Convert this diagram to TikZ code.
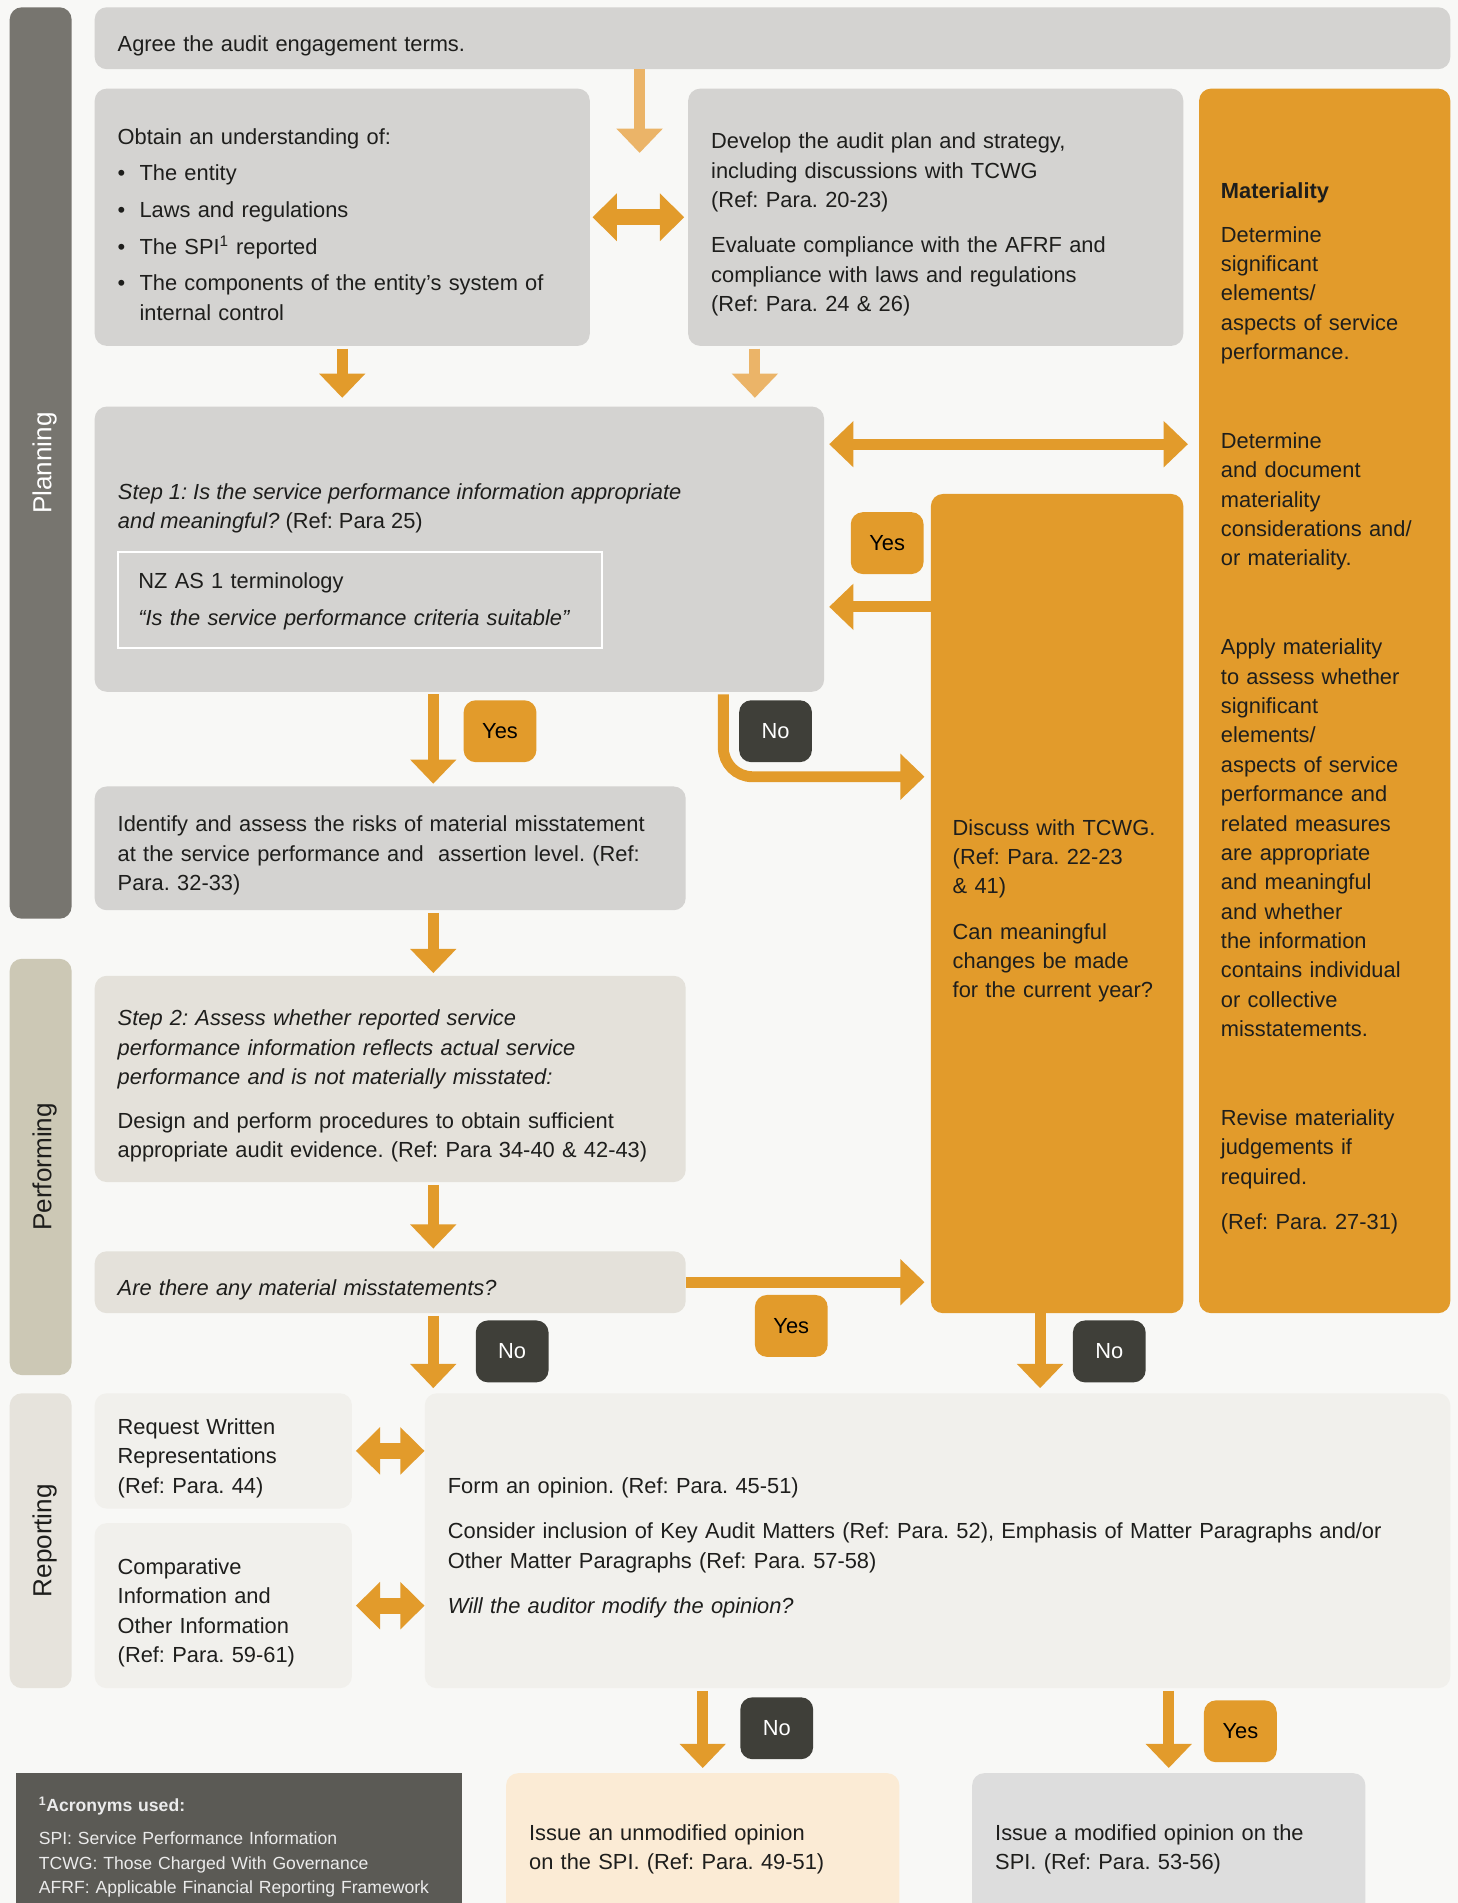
\documentclass[tikz,border=0pt]{standalone}
\usepackage{fontspec}
\setmainfont{Liberation Sans}
\usetikzlibrary{arrows.meta}
\definecolor{pagebg}{HTML}{F8F8F6}
\definecolor{boxgray}{HTML}{D4D3D1}
\definecolor{boxbeige}{HTML}{E4E1DA}
\definecolor{boxlight}{HTML}{F1F0EC}
\definecolor{amber}{HTML}{E29B2B}
\definecolor{amberlight}{HTML}{EBB468}
\definecolor{planbar}{HTML}{77756F}
\definecolor{perfbar}{HTML}{CCC8B5}
\definecolor{repbar}{HTML}{E6E3DC}
\definecolor{darklabel}{HTML}{3F3F39}
\definecolor{notebox}{HTML}{5B5A55}
\definecolor{peach}{HTML}{FBEBD5}
\definecolor{modgray}{HTML}{DDDDDD}
\definecolor{ink}{HTML}{1E1E1C}
\frenchspacing
\newcommand{\bodyfont}{\fontsize{18}{24.2}\selectfont}
\newcommand{\bul}{\makebox[18pt][l]{\textbullet}}

\tikzset{
  box/.style={fill=boxgray, rounded corners=10pt, inner xsep=19pt, inner ysep=0pt,
    align=left, text=ink, font=\bodyfont, text height=25pt},
  txt/.style={inner sep=0pt, align=left, text=ink, font=\bodyfont},
  phase/.style={rounded corners=10pt, inner sep=0pt, rotate=90, minimum height=51pt,
    text height=22pt, font=\fontsize{21.5}{24}\selectfont},
  yestag/.style={fill=amber, text=black, rounded corners=10pt, minimum width=60pt,
    minimum height=51pt, inner sep=0pt, font=\bodyfont},
  notag/.style={yestag, fill=darklabel, text=white},
  flow/.style={draw=amber, line width=9pt, -{Triangle[length=20pt,width=37pt]}},
  flowlight/.style={flow, draw=amberlight},
  twoway/.style={draw=amber, line width=13pt,
    {Triangle[length=20pt,width=38pt]}-{Triangle[length=20pt,width=38pt]}},
}

\begin{document}
\begin{tikzpicture}[x=1pt, y=-1pt]
\fill[pagebg] (0,0) rectangle (1201,1568);
\useasboundingbox (0,0) rectangle (1201,1568);

% phases
\node[phase, fill=planbar, text=white, minimum width=751pt] (plan) at (33.5,381.5) {Planning};
\node[phase, fill=perfbar, text=ink, minimum width=343pt] (perf) at (33.5,961.5) {Performing};
\node[phase, fill=repbar, text=ink, minimum width=243pt] (rep) at (33.5,1269.5) {Reporting};

% planning
\node[box, minimum width=1117pt, minimum height=51pt, text width=1079pt] (agree) at (636.5,31.5)
  {Agree the audit engagement terms.};
\node[box, minimum width=408pt, minimum height=212pt, text width=370pt] (obtain) at (282,179)
  {Obtain an understanding of:\\[6pt]
   \bul The entity\\[6pt]
   \bul Laws and regulations\\[6pt]
   \bul The SPI\textsuperscript{1} reported\\[6pt]
   \bul The components of the entity’s system of\\
   \hspace*{18pt}internal control};
\node[box, minimum width=408pt, minimum height=212pt, text width=370pt] (develop) at (771,179)
  {Develop the audit plan and strategy,\\
   including discussions with TCWG\\
   (Ref: Para. 20-23)\\[13pt]
   Evaluate compliance with the AFRF and\\
   compliance with laws and regulations\\
   (Ref: Para. 24 \& 26)};
\node[box, fill=amber, inner xsep=18pt, minimum width=207pt, minimum height=1009pt, text width=171pt] (mat) at (1091.5,577.5)
  {\textbf{Materiality}\\[12pt]
   Determine\\ significant\\ elements/\\ aspects of service\\ performance.\\[49pt]
   Determine\\ and document\\ materiality\\ considerations and/\\ or materiality.\\[49pt]
   Apply materiality\\ to assess whether\\ significant\\ elements/\\ aspects of service\\
   performance and\\ related measures\\ are appropriate\\ and meaningful\\ and whether\\
   the information\\ contains individual\\ or collective\\ misstatements.\\[49pt]
   Revise materiality\\ judgements if\\ required.\\[13pt]
   (Ref: Para. 27-31)};

\node[box, minimum width=601pt, minimum height=235pt] (step1) at (378.5,452.5) {};
\node[txt, anchor=west] (step1q) at (97,419)
  {\textit{Step 1: Is the service performance information appropriate}\\
   \textit{and meaningful?} (Ref: Para 25)};
\node[box, draw=white, line width=1.5pt, sharp corners, inner xsep=17pt, minimum width=399pt,
  minimum height=79pt, text width=365pt, text height=15pt] (nzas) at (296.5,494.5)
  {NZ AS 1 terminology\\[7pt]
   \textit{“Is the service performance criteria suitable”}};

\node[box, fill=amber, inner xsep=18pt, minimum width=208pt, minimum height=675pt, text width=172pt] (tcwg) at (871,744.5)
  {Discuss with TCWG.\\ (Ref: Para. 22-23\\ \& 41)\\[13pt]
   Can meaningful\\ changes be made\\ for the current year?};

\node[box, minimum width=487pt, minimum height=102pt, text width=449pt] (identify) at (321.5,699)
  {Identify and assess the risks of material misstatement\\
   at the service performance and~ assertion level. (Ref:\\
   Para. 32-33)};

% performing
\node[box, fill=boxbeige, minimum width=487pt, minimum height=170pt, text width=449pt] (step2) at (321.5,889)
  {\textit{Step 2: Assess whether reported service}\\
   \textit{performance information reflects actual service}\\
   \textit{performance and is not materially misstated:}\\[12pt]
   Design and perform procedures to obtain sufficient\\
   appropriate audit evidence. (Ref: Para 34-40 \& 42-43)};
\node[box, fill=boxbeige, minimum width=487pt, minimum height=51pt, text width=449pt] (are) at (321.5,1056.5)
  {\textit{Are there any material misstatements?}};

% reporting
\node[box, fill=boxlight, minimum width=212pt, minimum height=95pt, text width=174pt] (request) at (184,1195.5)
  {Request Written\\ Representations\\ (Ref: Para. 44)};
\node[box, fill=boxlight, minimum width=212pt, minimum height=136pt, text width=174pt] (compar) at (184,1323)
  {Comparative\\ Information and\\ Other Information\\ (Ref: Para. 59-61)};
\node[box, fill=boxlight, minimum width=845pt, minimum height=243pt, text width=807pt] (form) at (772.5,1269.5)
  {Form an opinion. (Ref: Para. 45-51)\\[13pt]
   Consider inclusion of Key Audit Matters (Ref: Para. 52), Emphasis of Matter Paragraphs and/or\\
   Other Matter Paragraphs (Ref: Para. 57-58)\\[13pt]
   \textit{Will the auditor modify the opinion?}};

% bottom row
\node[box, fill=notebox, sharp corners, text=white!92!black, minimum width=368pt, minimum height=119pt,
  text width=330pt, font=\fontsize{14.5}{20}\selectfont, text height=15pt] (acro) at (197,1520.5)
  {\textbf{\textsuperscript{1}Acronyms used:}\\[7pt]
   SPI: Service Performance Information\\
   TCWG: Those Charged With Governance\\
   AFRF: Applicable Financial Reporting Framework};
\node[box, fill=peach, minimum width=324pt, minimum height=120pt, text width=286pt, text height=19pt] (unmod) at (579,1521)
  {Issue an unmodified opinion\\ on the SPI. (Ref: Para. 49-51)};
\node[box, fill=modgray, minimum width=324pt, minimum height=120pt, text width=286pt, text height=19pt] (mod) at (963,1521)
  {Issue a modified opinion on the\\ SPI. (Ref: Para. 53-56)};

% arrows
\coordinate (agreetip) at (527,126);
\coordinate (devcol) at (622,0);
\coordinate (matrow) at (0,366);
\coordinate (backrow) at (0,500);
\coordinate (nobend) at (596,640);
\coordinate (spine) at (357,0);
\coordinate (tcwgcol) at (857,0);

\draw[flowlight] (agree.south -| agreetip) -- (agreetip);
\draw[twoway, shorten <=2pt, shorten >=3pt] (obtain.east) -- (develop.west);
\draw[flow, shorten <=2pt, shorten >=7pt] (obtain.south) -- (obtain.south |- step1.north);
\draw[flowlight, shorten <=2pt, shorten >=7pt] (develop.south -| devcol) -- (step1.north -| devcol);
\draw[flow, {Triangle[length=20pt,width=37pt]}-{Triangle[length=20pt,width=37pt]},
  shorten <=4pt, shorten >=9pt] (step1.east |- matrow) -- (mat.west |- matrow);
\draw[flow, shorten >=4pt] (tcwg.west |- backrow) -- (step1.east |- backrow);
\draw[flow, rounded corners=24pt, shorten <=2pt, shorten >=5pt] (step1.south -| nobend) |- (tcwg.west |- nobend);
\draw[flow, shorten <=2pt, shorten >=2pt] (step1.south -| spine) -- (identify.north -| spine);
\draw[flow, shorten <=2pt, shorten >=2pt] (identify.south -| spine) -- (step2.north -| spine);
\draw[flow, shorten <=2pt, shorten >=2pt] (step2.south -| spine) -- (are.north -| spine);
\draw[flow, shorten <=2pt, shorten >=4pt] (are.south -| spine) -- (form.north -| spine);
\draw[flow, shorten >=5pt] (are.east) -- (tcwg.west |- are.east);
\draw[flow, shorten >=4pt] (tcwg.south -| tcwgcol) -- (form.north -| tcwgcol);
\draw[twoway, shorten <=3pt] (request.east) -- (form.west |- request.east);
\draw[twoway, shorten <=3pt] (compar.east) -- (form.west |- compar.east);
\draw[flow, shorten <=2pt, shorten >=4pt] (form.south -| unmod.north) -- (unmod.north);
\draw[flow, shorten <=2pt, shorten >=4pt] (form.south -| mod.north) -- (mod.north);

% answers
\node[yestag] (yesback) at (731,447.5) {Yes};
\node[yestag] (yesrisk) at (412,602.5) {Yes};
\node[notag] (nochange) at (639,602.5) {No};
\node[yestag] (yesmis) at (652,1092.5) {Yes};
\node[notag] (nomis) at (422,1113.5) {No};
\node[notag] (notcwg) at (914,1113.5) {No};
\node[notag] (nomodify) at (640,1424) {No};
\node[yestag] (yesmodify) at (1022,1426.5) {Yes};
\end{tikzpicture}
\end{document}
